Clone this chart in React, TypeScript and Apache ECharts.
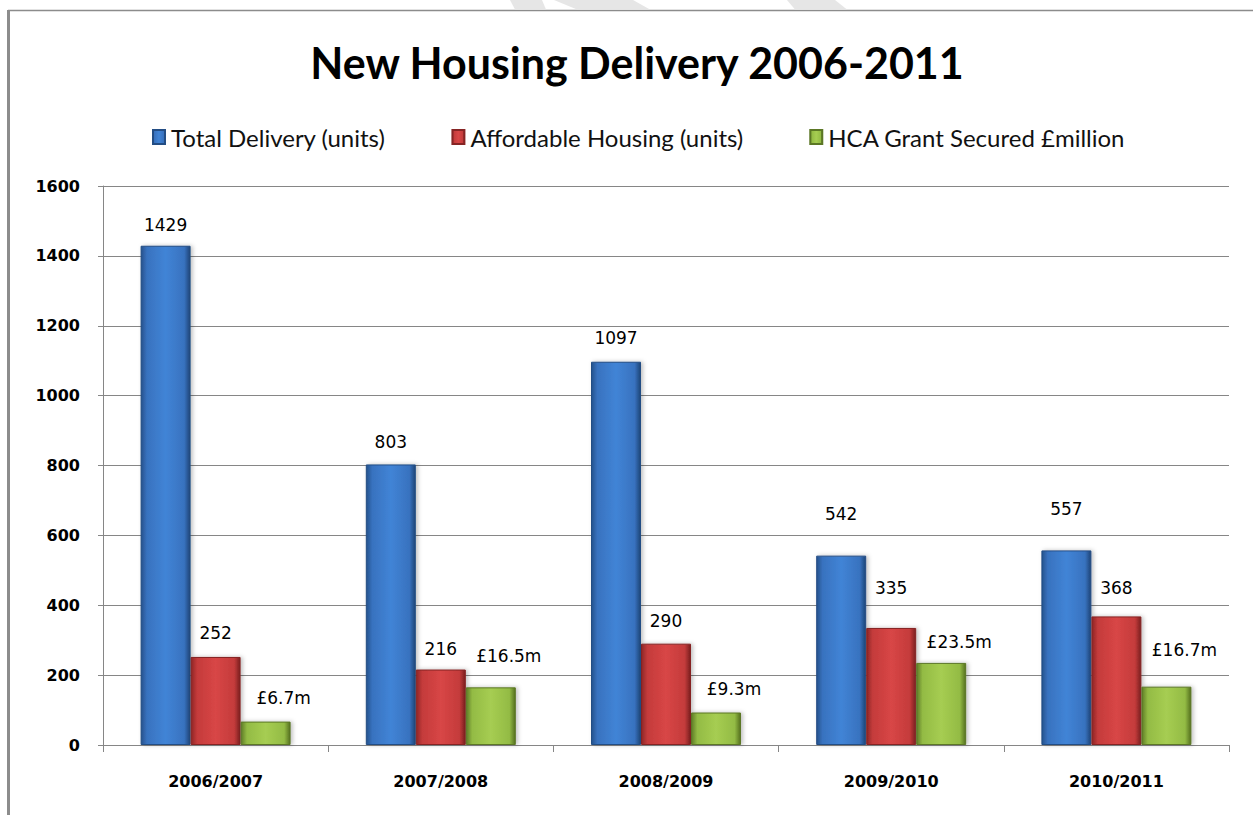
import React, { useEffect, useRef } from "react";
import * as echarts from "echarts";

const categories = ["2006/2007", "2007/2008", "2008/2009", "2009/2010", "2010/2011"];
const totalDelivery = [1429, 803, 1097, 542, 557];
const affordableHousing = [252, 216, 290, 335, 368];
const hcaGrantMillions = [6.7, 16.5, 9.3, 23.5, 16.7];
const seriesNames = ["Total Delivery (units)", "Affordable Housing (units)", "HCA Grant Secured £million"];
const yTicks = { min: 0, max: 1600, interval: 200 };
// grant is drawn at ×10 so that it shares the unit axis, as in the original
const grantPlotScale = 10;

// extra label lift (px) per bar, as placed in the original
const liftTotal = [0, 2, 3, 21, 21];
const liftAfford = [3, 0, 2, 19, 8];
const liftGrant = [3, 11, 3, 0, 16];

function barGrad(edgeL: string, mid: string, light: string, edgeR: string) {
  return new echarts.graphic.LinearGradient(0, 0, 1, 0, [
    { offset: 0, color: edgeL },
    { offset: 0.12, color: mid },
    { offset: 0.5, color: light },
    { offset: 0.88, color: mid },
    { offset: 1, color: edgeR },
  ]);
}

export default function App() {
  const ref = useRef<HTMLDivElement>(null);
  useEffect(() => {
    if (!ref.current) return;
    const chart = echarts.init(ref.current, undefined, { renderer: "svg" });
    const labelBase = {
      show: true,
      position: "top" as const,
      distance: 12,
      fontFamily: "DejaVu Sans",
      fontSize: 17,
      color: "#000",
    };
    const mk = (vals: number[], lifts: number[], dx: number, fmt?: (v: number) => string) =>
      vals.map((v, i) => ({
        value: v,
        label: {
          offset: [dx, -lifts[i]],
          ...(fmt ? { formatter: fmt(v) } : {}),
        },
      }));
    const option = {
      animation: false,
      backgroundColor: "#fff",
      title: {
        text: "New Housing Delivery 2006-2011",
        left: 632,
        textAlign: "center",
        top: 36,
        textStyle: { fontFamily: "Lato", fontWeight: "bold", fontSize: 43, color: "#000" },
      },
      legend: {
        left: 147,
        top: 120,
        icon: "rect",
        itemWidth: 12,
        itemHeight: 14,
        itemGap: 66,
        textStyle: { fontFamily: "Lato", fontSize: 24, color: "#111", padding: [0, 0, 0, 1] },
        data: seriesNames,
      },
      graphic: [
        { type: "line", shape: { x1: 8, y1: 10.5, x2: 1253, y2: 10.5 }, style: { stroke: "#8c8c8c", lineWidth: 1.5 } },
        { type: "line", shape: { x1: 8.5, y1: 10, x2: 8.5, y2: 815 }, style: { stroke: "#8c8c8c", lineWidth: 3 } },
        { type: "polygon", shape: { points: [[510, 0], [542, 0], [546, 9.5], [515, 9.5]] }, style: { fill: "#e6e6e6" } },
        { type: "polygon", shape: { points: [[554, 0], [633, 0], [650, 9.5], [577, 9.5]] }, style: { fill: "#e6e6e6" } },
        { type: "polygon", shape: { points: [[787, 0], [835, 0], [847, 9.5], [795, 9.5]] }, style: { fill: "#e6e6e6" } },
      ],
      grid: { left: 103, right: 24, top: 186, bottom: 70, containLabel: false },
      xAxis: {
        type: "category",
        data: categories,
        axisLine: { lineStyle: { color: "#868686", width: 1 } },
        axisTick: { show: true, length: 7, lineStyle: { color: "#868686" } },
        axisLabel: { margin: 28, fontFamily: "DejaVu Sans", fontWeight: "bold", fontSize: 16, color: "#000" },
      },
      yAxis: {
        type: "value",
        min: yTicks.min,
        max: yTicks.max,
        interval: yTicks.interval,
        axisLine: { show: true, lineStyle: { color: "#868686", width: 1 } },
        axisTick: { show: true, length: 5, lineStyle: { color: "#868686" } },
        splitLine: { lineStyle: { color: "#868686", width: 1 } },
        axisLabel: {
          margin: 23,
          formatter: (v: number) => String(v),
          fontFamily: "DejaVu Sans",
          fontWeight: "bold",
          fontSize: 16,
          color: "#000",
        },
      },
      series: [
        {
          name: seriesNames[0],
          type: "bar",
          barWidth: 50,
          barGap: "0%",
          data: mk(totalDelivery, liftTotal, 0),
          label: labelBase,
          itemStyle: {
            color: barGrad("#25528c", "#3872bf", "#4184d6", "#1e4577"),
            borderColor: "#234d84",
            borderWidth: 1,
            shadowColor: "rgba(0,0,0,0.25)",
            shadowBlur: 4,
            shadowOffsetX: 2,
          },
        },
        {
          name: seriesNames[1],
          type: "bar",
          barWidth: 50,
          barGap: "0%",
          data: mk(affordableHousing, liftAfford, 0),
          label: labelBase,
          itemStyle: {
            color: barGrad("#8e2626", "#c43b3b", "#d84646", "#7a1f1f"),
            borderColor: "#862424",
            borderWidth: 1,
            shadowColor: "rgba(0,0,0,0.25)",
            shadowBlur: 4,
            shadowOffsetX: 2,
          },
        },
        {
          name: seriesNames[2],
          type: "bar",
          barWidth: 50,
          barGap: "0%",
          data: mk(
            hcaGrantMillions.map((v) => v * grantPlotScale),
            liftGrant,
            18,
            (v) => `£${(v / grantPlotScale).toFixed(1)}m`
          ),
          label: labelBase,
          itemStyle: {
            color: barGrad("#5f7c27", "#93bb44", "#a6cd52", "#55701f"),
            borderColor: "#5b7725",
            borderWidth: 1,
            shadowColor: "rgba(0,0,0,0.25)",
            shadowBlur: 4,
            shadowOffsetX: 2,
          },
        },
      ],
    };
    chart.setOption(option as any);
    return () => chart.dispose();
  }, []);
  return (
    <div
      ref={ref}
      style={{ position: "fixed", left: 0, top: 0, width: 1253, height: 815, background: "#fff" }}
    />
  );
}
